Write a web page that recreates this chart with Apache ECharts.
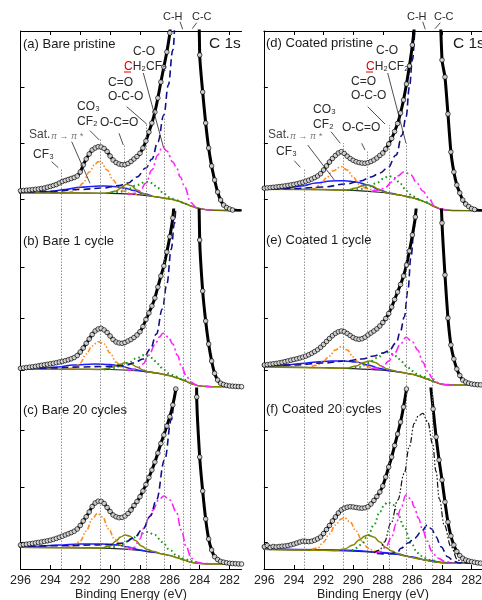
<!DOCTYPE html>
<html><head><meta charset="utf-8">
<script src="https://cdn.jsdelivr.net/npm/echarts@6/dist/echarts.min.js"></script>
<style>html,body{margin:0;padding:0;background:#fff}#c{width:482px;height:600px}</style>
</head><body><div id="c"></div>
<script>
const FONT = '"Liberation Sans", Arial, Helvetica, "DejaVu Sans", sans-serif';

// measurement grid (binding energy, eV)
const energy = [296.2,296.0,295.8,295.6,295.4,295.2,295.0,294.8,294.6,294.4,294.2,294.0,293.8,293.6,293.4,293.2,293.0,292.8,292.6,292.4,292.2,292.0,291.8,291.6,291.4,291.2,291.0,290.8,290.6,290.4,290.2,290.0,289.8,289.6,289.4,289.2,289.0,288.8,288.6,288.4,288.2,288.0,287.8,287.6,287.4,287.2,287.0,286.8,286.6,286.4,286.2,286.0,285.8,285.6,285.4,285.2,285.0,284.8,284.6,284.4,284.2,284.0,283.8,283.6,283.4,283.2,283.0,282.8,282.6,282.4,282.2,282.0,281.8,281.6,281.4,281.2];

// measured intensities (arb. units) per panel
const expA = [19,19.3,19.5,19.8,20,20.3,20.7,21,21.5,22,22.8,23.5,24.5,25.5,27,28.5,29.5,30.5,31.5,32.5,34,38,45,51,56,60,62,63.3,63,61.5,58.5,54,50,47.5,46,45.3,45.3,46.5,48.5,51,53.5,56.7,62,69,78,87,98,112,128,143,158,177,215,280,380,500,620,720,760,650,350,155,118,87,62,44,30,18,10,5,2.5,1,0,-0.3,-0.5,-0.7];
const expB = [20.5,20.7,21,21.4,21.8,22.2,22.6,23.2,23.7,24.2,24.7,25.2,25.7,26.3,27,27.6,28.3,29.2,30.2,31.5,33.5,37,41,45.7,50,54.5,58,60,60.7,59,56.5,53,49.5,47,46,45.7,46.5,48,49.5,51.5,54,57.3,62.5,69.5,76,83,91,102,113,123,137,152.3,171,210,290,400,520,610,640,550,330,149,98,68,45,28,15.7,9,5.8,4.5,3.6,3,2.8,2.6,2.4,2.3];
const expC = [23.7,24,24.4,24.8,25.2,25.6,26.1,26.6,27,27.6,28.2,28.8,29.6,30.6,31.7,32.8,34,35.2,36.4,37.8,40,43.5,48,52.3,57,62.5,66,67.8,67.7,65.5,61.5,57.5,54,52.2,51.3,51.6,53,55.5,59,63.5,67.5,72.3,78,84.5,91.5,99,107,116,125.5,134,143,152.3,164,180,230,330,450,560,600,480,172,112,78,50,30,19,12.3,9.5,7.6,6.8,6.2,5.7,5.5,5.3,5.1,5];
const expD = [21.5,21.8,22.1,22.4,22.7,23,23.4,23.7,24.1,24.6,25.1,25.6,26.2,27,27.8,28.8,29.8,31,32.4,34,36.3,40,44,48,51.5,54.5,57,58.3,56.5,53.8,51.5,49.7,48.3,47.4,46.9,46.7,47.3,48.5,50,52,54.5,57,61,66,71.5,78.5,86.5,97,110,126,144,165,195,250,340,470,600,700,740,620,260,150,133,96,58,38,25,17,10,6,3.5,1.5,0.5,-0.2,-0.6,-0.8];
const expE = [23.7,24,24.4,24.8,25.2,25.6,26.1,26.7,27.4,28.1,28.8,29.5,30.2,31,31.9,32.9,34.2,35.7,37.4,39.3,41.7,44.5,47.5,50.5,53.3,55.6,57.2,58,57.3,55.5,53.5,51.5,50.2,49.7,50.3,51.8,54,56,58,60.2,63,66.5,70.5,75.5,82,89.5,97,104.5,113,124,138,154,172,215,300,420,540,640,680,580,260,166,114,71,44,30,20,13.5,9,7,5.8,5,4.6,4.3,4.1,4];
const expF = [22.5,22.3,23.5,21.5,22.5,22,22.5,22.8,23,23.5,24.2,25,26,27,27.8,27.6,27.4,27.8,28.8,30.2,32,35.5,39.5,43.5,48,52,56,59,60.8,61.8,62.3,62,61.5,61,60.8,61.2,62.3,65,68.5,72.5,77,83,92,102,112,123.5,135,147,162,180,205,235,265,290,305,310,300,190,160,132,109,89,67,47,33,24,17.5,13.5,10.7,9,8,7.3,6.7,6.2,5.8,5.6];

// Shirley backgrounds
const bgEnergy = [296.2,292,290,288,287,286,285.5,285,284.5,284,283.5,283,281.2];
const bgA = [17.3,17,16.6,15.2,13.3,11,9.2,6.5,3.6,1.5,0.2,-0.3,-0.6];
const bgB = [19.7,19.7,19.5,18,16.2,13.3,11,8.2,5,3,2.4,2.3,2.3];
const bgC = [21.7,21.2,20.7,18.7,16.5,13.5,11.3,8.7,6.5,5.6,5.1,5,5];
const bgD = [20.7,20.4,19.6,17.5,15.3,12.3,10,7,3.2,0.5,-0.3,-0.6,-0.8];
const bgEe = [22.3,21.3,20.4,18.8,17.2,14.7,12.5,10,7,4.6,4.1,4,4];
const bgF = [19.7,18.7,17.9,16.2,14.5,11.6,10,8.5,7.2,6.3,5.8,5.7,5.6];

// fitted components [energy, intensity]
const satA = [[296.2,17.4],[295,17.6],[294,18.4],[293,20.5],[292,22.8],[291,23.8],[290.4,24],[289.6,23.3],[289,21.8],[288.4,19.5],[287.8,16.5],[287.2,14]];
const co3A = [[292.8,17.2],[292.5,18.5],[292.2,21],[291.8,27],[291.4,38],[291.0,46],[290.8,48.3],[290.6,47.5],[290.2,40],[289.8,30],[289.4,22],[289.0,18.5],[288.6,16.5],[288.2,15.5]];
const ocoA = [[296.2,17.3],[292,17],[290.6,16.7],[290.2,16.9],[289.6,19],[289.2,23],[288.9,25.7],[288.6,24.5],[288.2,20],[287.8,16.5],[287.4,14.5],[287,13.3],[286,11],[285.5,9.2],[285,6.5],[284.5,3.6],[284,1.5],[283.5,0.2],[283,-0.3],[281.2,-0.6]];
const cdoA = [[290.2,16.8],[289.4,18],[288.8,21],[288.2,25],[287.6,28.3],[287.2,27],[286.8,22],[286.4,16],[286.0,12.5],[285.6,10],[285.2,7.8],[284.8,5]];
const coA = [[288.8,15.8],[288.4,16.5],[288.0,19],[287.6,27],[287.2,40],[286.8,55],[286.5,63.3],[286.2,59],[285.8,48],[285.57,43],[285.3,33],[285.0,23],[284.6,7.5],[284.2,2],[283.8,0.5],[283.2,-0.2]];
const chA = [[296.2,17.6],[294,18.6],[292,20.5],[290.5,22],[289.4,24.5],[288.8,27],[288.2,33],[287.6,42],[287.2,51],[286.8,68],[286.4,95],[286.1,125],[285.8,160],[285.5,230],[285.2,400]];

const satB = [[296.2,19.8],[295,20],[293.5,22],[292.5,24],[291,25],[290,24.5],[289.2,22.5],[288.4,19.5],[287.6,17.3],[287,16.2]];
const co3B = [[292.8,20],[292.4,21],[292.0,26],[291.6,35],[291.2,43],[290.8,47.3],[290.4,45],[290.0,36],[289.6,27],[289.2,21.5],[288.8,19.5],[288.4,18.5]];
const ocoB = [[296.2,19.7],[292,19.7],[290.8,19.6],[290.4,20],[289.8,22],[289.4,24.5],[289.0,26.3],[288.6,25],[288.2,22],[287.8,19],[287.4,17],[287,16.2],[286,13.3],[285.5,11],[285,8.2],[284.5,5],[284,3],[283.5,2.4],[283,2.3],[281.2,2.3]];
const cdoB = [[290.4,19.6],[290,20],[289.4,22.5],[288.8,26],[288.2,31],[287.7,34],[287.2,31],[286.8,25],[286.4,19],[286.0,15],[285.6,12.5],[285.2,10],[284.8,7.5]];
const coB = [[288.8,18.5],[288.2,20],[287.8,25],[287.4,34],[287.0,44],[286.7,52],[286.45,55.7],[286.1,52],[285.8,45],[285.5,34],[285.2,22],[284.9,13],[284.6,7],[284.2,4],[283.8,3],[283.2,2.3]];
const chB = [[296.2,20],[294,21],[292,22],[290.5,22.5],[289,23.5],[288.4,26],[287.8,30],[287.3,40],[286.9,55],[286.5,80],[286.2,105],[285.9,140],[285.7,165],[285.5,200],[285.2,350]];

const satC = [[296.2,22],[295,22.5],[293.5,24],[292,25],[290.5,25],[289.5,24],[288.8,22],[288,19],[287.4,17.2],[287,16.5]];
const co3C = [[292.8,22.5],[292.4,23.5],[292.0,28],[291.6,38],[291.2,50],[290.85,55.7],[290.5,52],[290.1,40],[289.7,30],[289.3,24],[288.9,21.5],[288.5,19.5]];
const ocoC = [[296.2,21.7],[292,21.2],[291,20.9],[290.6,21],[290,23],[289.6,28],[289.3,32],[289.0,34],[288.7,33],[288.3,28.5],[287.9,23],[287.5,19.5],[287.1,17.5],[286.5,15],[286,13.5],[285.5,11.3],[285,8.7],[284.5,6.5],[284,5.6],[283.5,5.1],[283,5],[281.2,5]];
const cdoC = [[290.4,20.8],[289.8,22],[289.2,25],[288.6,30],[288.0,35],[287.5,37],[287.0,34],[286.5,27],[286.0,19],[285.5,13],[285.0,10],[284.6,8],[284.2,6.5]];
const coC = [[288.8,19.5],[288.4,21.5],[288.0,30],[287.75,40.7],[287.4,51],[287.13,59],[286.75,69],[286.4,73],[286.0,69],[285.57,57.3],[285.23,39],[284.9,22.3],[284.56,10.7],[284.2,7],[283.8,5.6],[283.2,5]];
const chC = [[296.2,22.5],[293,23.3],[291,24],[290,24.5],[289.1,26],[288.4,31],[287.8,40],[287.3,53],[286.9,69],[286.35,109],[285.9,149],[285.6,185],[285.3,300]];

const satD = [[296.2,20.8],[295.5,21],[294.5,22],[293.5,24],[292.5,27],[291.5,29],[290.6,29.3],[289.8,28],[289,25],[288.2,20],[287.6,17],[287,15.3]];
const co3D = [[292.8,20.8],[292.6,21.5],[292.2,26],[291.8,32],[291.4,39],[290.8,43.3],[290.4,40],[290,33],[289.6,26],[289.2,22],[288.8,20.5],[288.4,19]];
const ocoD = [[296.2,20.7],[292,20.4],[291,20],[290.4,20],[289.8,22],[289.4,24],[289.1,25],[288.7,24],[288.3,21],[287.9,18],[287.5,16.5],[287,15.3],[286,12.3],[285.5,10],[285,7],[284.5,3.2],[284,0.5],[283.5,-0.3],[283,-0.6],[281.2,-0.8]];
const cdoD = [[290.4,19.8],[289.6,20.5],[289,23],[288.4,27],[288,31],[287.6,34],[287.2,32],[286.8,26],[286.4,19],[286,14],[285.6,11],[285.2,8.5],[284.8,5.5]];
const coD = [[288.8,18.5],[288.2,20],[287.8,23],[287.4,28],[287,34],[286.55,38.3],[286.1,35],[285.7,27],[285.3,19],[284.9,12],[284.5,4],[284.1,1],[283.6,-0.3]];
const chD = [[296.2,21],[294,21.5],[292,23],[290.5,26],[289.5,29],[288.8,33],[288.2,37],[287.67,42],[287.1,55],[286.7,75],[286.43,93],[286.2,123],[286,150],[285.8,180],[285.5,280]];

const satE = [[296.2,22.5],[295.5,23],[294.5,24],[293.5,25.5],[292.5,27],[291.5,28],[290.6,28],[289.8,27],[289,24],[288.2,20.5],[287.6,18.5],[287,17.2]];
const co3E = [[292.8,22.5],[292.4,24],[292,28],[291.6,33],[291.2,39],[290.8,42.3],[290.4,39],[290,32],[289.6,26],[289.2,23],[288.8,21.5],[288.4,20]];
const ocoE = [[296.2,22.3],[292,21.3],[291,20.8],[290.4,21],[289.8,23],[289.3,26.5],[288.9,28],[288.5,26.5],[288.1,23],[287.7,20],[287.3,18.5],[287,17.2],[286,14.7],[285.5,12.5],[285,10],[284.5,7],[284,4.6],[283.5,4.1],[283,4],[281.2,4]];
const cdoE = [[290.2,20.6],[289.6,22],[289,26],[288.4,31],[287.8,37],[287.3,35],[286.9,30],[286.4,23],[286,18],[285.6,14],[285.2,12],[284.8,9.5],[284.4,7]];
const coE = [[288.8,20],[288.4,21],[288.0,22],[287.6,28],[287.2,36],[286.8,45],[286.43,51.7],[286.0,47],[285.64,39],[285.3,27],[285.0,18],[284.6,10],[284.2,6],[283.8,4.5],[283.2,4]];
const chE = [[296.2,23.5],[294,24],[292,26],[290.5,28],[289.4,30],[288.6,33],[288,36],[287.6,38],[287.1,46],[286.8,58],[286.55,72],[286.3,99],[286.1,132],[285.87,162],[285.6,210],[285.3,350]];

const satF = [[296.2,20.2],[292,19.3],[290,18.5],[288,16.6],[287,14.8],[286,11.9],[285,8.8],[284,6.5],[283,5.8],[281.2,5.7]];
const co3F = [[292.8,19.5],[292.4,21],[292,27],[291.6,35],[291.2,44],[290.8,50],[290.6,51.3],[290.2,47],[289.8,38],[289.4,28],[289,21],[288.6,18],[288.2,16.8]];
const ocoF = [[296.2,19.7],[292,18.7],[291.2,18.5],[290.6,20],[290,24],[289.6,29],[289.2,33],[289.0,34],[288.6,32],[288.2,27],[287.8,21.5],[287.4,18],[287,15.5],[286.5,13],[286,11.6],[285.5,10],[285,8.5],[284.5,7.2],[284,6.3],[283.5,5.8],[283,5.7],[281.2,5.6]];
const cdoF = [[290.4,18.3],[290,19],[289.5,24],[289,33],[288.6,44],[288.2,57],[287.9,64],[287.67,67],[287.3,64],[287,55],[286.55,42],[286.1,26],[285.64,16],[285.2,11],[284.8,9],[284.4,7.5]];
const coF = [[288.6,16.5],[288.2,17],[287.8,22],[287.4,32],[287.1,45],[286.8,60],[286.43,74],[286.1,70],[285.87,62],[285.6,51],[285.3,39],[285.0,28],[284.7,18],[284.3,11],[283.8,7.5],[283.2,5.7]];
const chF = [[288.4,15.5],[287.6,15],[287,17],[286.77,20.7],[286.3,26],[285.87,30.7],[285.3,39],[285.0,44],[284.7,40],[284.41,32.3],[284.07,22.3],[283.62,12.3],[283.2,7.5],[282.8,6],[282.4,5.7]];
const ccF = [[288.6,16.3],[288.2,19],[287.9,27],[287.44,46],[286.99,69],[286.55,95.7],[286.21,122.3],[285.87,145.7],[285.6,153],[285.3,155.7],[284.97,147.3],[284.63,125],[284.41,98],[284.18,70],[283.85,44],[283.39,22.3],[282.94,9],[282.5,6.2],[282,5.8]];

// reference energies (CF3, CO3/CF2, O-C=O, C=O, C-O, C-H, C-C)
const refLines = [293.3,290.65,289.07,287.57,286.4,285.12,284.63];
const refTopA = [42,72,65,86,93,182,182];
const refTopD = [42,67,60,85,67,182,182];
const xTickVals = [296,294,292,290,288,286,284,282];
const titles = ['(a) Bare pristine','(b) Bare 1 cycle','(c) Bare 20 cycles','(d) Coated pristine','(e) Coated 1 cycle','(f) Coated 20 cycles'];

// ---- layout ----
const cols = [{x0:20.5,x1:241.5,min:281.2,max:296},{x0:263.86,x1:482,min:281.3,max:296.03}];
const rows = [{top:31,h:179},{top:210,h:179},{top:389,h:180}];
const yTicks = [[10.5,66.5,122.5],[19,71,122],[27,82,139]];

const panels = [
  {exp:expA,bg:bgA,sat:satA,co3:co3A,oco:ocoA,cdo:cdoA,co:coA,ch:chA},
  {exp:expB,bg:bgB,sat:satB,co3:co3B,oco:ocoB,cdo:cdoB,co:coB,ch:chB},
  {exp:expC,bg:bgC,sat:satC,co3:co3C,oco:ocoC,cdo:cdoC,co:coC,ch:chC},
  {exp:expD,bg:bgD,sat:satD,co3:co3D,oco:ocoD,cdo:cdoD,co:coD,ch:chD},
  {exp:expE,bg:bgEe,sat:satE,co3:co3E,oco:ocoE,cdo:cdoE,co:coE,ch:chE},
  {exp:expF,bg:bgF,sat:satF,co3:co3F,oco:ocoF,cdo:cdoF,co:coF,ch:chF,cc:ccF}
];
const compStyle = {
  sat:{color:'#1f1fff',type:'solid',width:1.5},
  co3:{color:'#ff8a1f',type:[5,2,1.5,2,1.5,2],width:1.6},
  oco:{color:'#858500',type:'solid',width:1.5},
  cdo:{color:'#1d981d',type:[1.6,3],width:2},
  co:{color:'#ff22ff',type:[8,3,2,3],width:1.6},
  ch:{color:'#10108a',type:[7,4],width:1.6},
  cc:{color:'#111',type:[6,2,1.5,2,1.5,2],width:1.2}
};

const grid=[], xAxis=[], yAxis=[], series=[];
cols.forEach((c,ci)=>{
  rows.forEach((r,ri)=>{
    const g = ci*3+ri;
    grid.push({left:c.x0, top:r.top, width:c.x1-c.x0, height:r.h, outerBoundsMode:'none', containLabel:false});
    xAxis.push({
      gridIndex:g, type:'value', min:c.min, max:c.max, inverse:true,
      position: ri===0?'top':'bottom',
      axisLine:{show:ri!==1, onZero:false, lineStyle:{color:'#000',width:1}},
      axisTick:{show:ri!==1, inside:true, length:4, customValues:xTickVals, lineStyle:{color:'#000'}},
      axisLabel:{show:ri===2, customValues:xTickVals, fontSize:12.5, color:'#222', fontFamily:FONT, margin:5},
      splitLine:{show:false},
      name: ri===2?'Binding Energy (eV)':'', nameLocation:'middle', nameGap:17,
      nameTextStyle:{fontSize:12.5, color:'#222', fontFamily:FONT}
    });
    yAxis.push({
      gridIndex:g, type:'value', min:0, max:r.h,
      axisLine:{show:true, onZero:false, lineStyle:{color:'#000',width:1}},
      axisTick:{show:true, inside:true, length:4, customValues:yTicks[ri], lineStyle:{color:'#000'}},
      axisLabel:{show:false}, splitLine:{show:false}
    });
    const p = panels[g];
    const tops = ri===0 ? (ci===0?refTopA:refTopD) : null;
    series.push({
      type:'line', xAxisIndex:g, yAxisIndex:g, silent:true, z:2, clip:false,
      data: bgEnergy.map((e,i)=>[e,p.bg[i]]), symbol:'none', smooth:0.4,
      lineStyle:{color:'#222',width:1.2},
      markLine:{silent:true, symbol:['none','none'], label:{show:false}, animation:false,
        lineStyle:{color:'#777',type:[1.5,1.5],width:0.8},
        data: refLines.map((x,i)=>[{coord:[x,0]},{coord:[x, tops?tops[i]:r.h]}])}
    });
    ['sat','co3','oco','cdo','co','ch','cc'].forEach(k=>{
      if(!p[k]) return;
      const s = compStyle[k];
      series.push({type:'line', xAxisIndex:g, yAxisIndex:g, silent:true, z:3, clip:true,
        data:p[k], symbol:'none', smooth:0.4, smoothMonotone:'x',
        lineStyle:{color:s.color,type:s.type,width:s.width}});
    });
    const pts = energy.map((e,i)=>[e,p.exp[i]]);
    series.push({type:'line', xAxisIndex:g, yAxisIndex:g, silent:true, z:4, clip:true,
      data:pts, symbol:'none', smooth:0.2, lineStyle:{color:'#000',width:3}});
    series.push({type:'scatter', xAxisIndex:g, yAxisIndex:g, silent:true, z:5, clip:true,
      data:pts, symbol:'circle', symbolSize:4.6,
      itemStyle:{color:'#fff',borderColor:'#000',borderWidth:0.9}});
  });
});

// ---- annotations ----
const G = [];
function txt(x,y,text,o){o=o||{};
  G.push({type:'text', x:x, y:y, z:100, silent:true,
    style:{text:text, fill:o.fill||'#2a2a2a', font:(o.style||'')+' '+(o.size||12)+'px '+FONT,
      verticalAlign:'middle', align:o.align||'left', rich:o.rich}});
}
function seg(x1,y1,x2,y2,col,w){
  G.push({type:'line', z:100, silent:true, shape:{x1,y1,x2,y2}, style:{stroke:col||'#222', lineWidth:w||0.8}});
}
const titlePos = [[23,44],[23,241],[23,410],[266,43],[266,240],[266,409]];
titles.forEach((t,i)=>txt(titlePos[i][0],titlePos[i][1],t,{size:13,fill:'#1a1a1a'}));
txt(209,44,'C 1s',{size:15.5,fill:'#1a1a1a'});
txt(453,44,'C 1s',{size:15.5,fill:'#1a1a1a'});

const rich = {r:{fill:'#e00000',font:'12px '+FONT}};
function labelSet(dx, L){
  txt(L.co[0],L.co[1],'C-O');
  txt(L.ch2[0],L.ch2[1],'{r|C}H\u2082CF\u2082',{rich:rich});
  seg(L.ch2[0],L.ch2[1]+5,L.ch2[0]+7,L.ch2[1]+5,'#e00000',1);
  txt(L.cdo[0],L.cdo[1],'C=O'); txt(L.cdo[0],L.cdo[1]+14,'O-C-O');
  txt(L.co3[0],L.co3[1],'CO\u2083'); txt(L.co3[0],L.co3[1]+15,'CF\u2082');
  txt(L.oco[0],L.oco[1],'O-C=O');
  txt(L.sat[0],L.sat[1],'Sat.',{fill:'#444'});
  txt(L.sat[0]+22,L.sat[1]+1,'\u03c0 \u2192 \u03c0 *',{size:9,style:'italic',fill:'#777'});
  txt(L.cf3[0],L.cf3[1],'CF\u2083');
  txt(L.chl[0],L.chl[1],'C-H',{size:11}); txt(L.ccl[0],L.ccl[1],'C-C',{size:11});
  L.leaders.forEach(s=>seg(s[0],s[1],s[2],s[3]));
}
labelSet(0,{co:[133,52],ch2:[124,67],cdo:[108,83],co3:[77,107],oco:[100,123],sat:[29,135],cf3:[33,155],chl:[163,17],ccl:[192,17],
  leaders:[[51.7,161.7,58.3,167.7],[71.7,141.7,90,183.3],[90,130.7,99.3,140],[119,133.3,123.3,145],[126.7,106.7,146.7,124],[143.3,73,163.3,146.7],[180,21.7,182.7,29.3],[196.7,22.7,192.3,28.7]]});
labelSet(0,{co:[376,51],ch2:[366,67],cdo:[351,82],co3:[313,110],oco:[342,128],sat:[268,135],cf3:[276,152],chl:[407,17],ccl:[434,17],
  leaders:[[294.3,160.7,300.3,167.3],[307.7,145,334.3,180],[331,131.7,340.3,143.3],[361.7,143.3,365,150],[367.7,106.7,385,124],[387.7,73,406,143.3],[422.7,21.7,425.3,29.3],[440.3,22.7,435,28.7]]});

const chart = echarts.init(document.getElementById('c'), null, {renderer:'canvas', width:482, height:600});
chart.setOption({animation:false, backgroundColor:'#fff', grid, xAxis, yAxis, series, graphic:{elements:G}});
</script></body></html>
